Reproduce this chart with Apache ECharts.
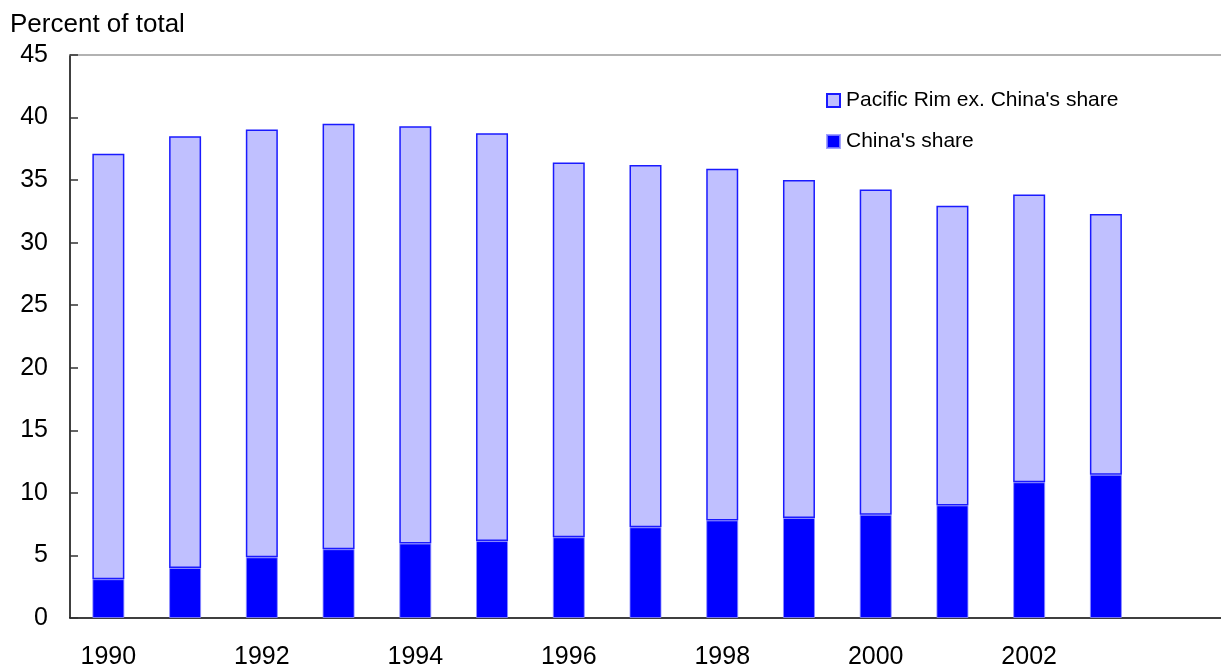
<!DOCTYPE html>
<html>
<head>
<meta charset="utf-8">
<title>Percent of total</title>
<script src="https://cdn.jsdelivr.net/npm/echarts@6/dist/echarts.min.js"></script>
<style>
  html, body { margin: 0; padding: 0; background: #ffffff; }
  #chart { width: 1221px; height: 670px; }
</style>
</head>
<body>
<div id="chart"></div>
<script>
// Years on the category axis; the final slot is left empty
const years = ['1990', '1991', '1992', '1993', '1994', '1995', '1996',
               '1997', '1998', '1999', '2000', '2001', '2002', '2003', ''];

// China's share (percent of total)
const chinaShare = [3.1, 4.0, 4.85, 5.5, 5.95, 6.15, 6.45,
                    7.25, 7.8, 8.0, 8.25, 9.0, 10.85, 11.45];

// Pacific Rim excluding China (percent of total)
const pacificRimExChina = [34.0, 34.5, 34.2, 34.0, 33.35, 32.6, 29.95,
                           28.95, 28.1, 27.0, 26.0, 23.95, 23.0, 20.85];

// Value-axis ticks
const yTicks = { min: 0, max: 45, interval: 5 };

const FONT = '"Liberation Sans", Arial, sans-serif';

const chart = echarts.init(document.getElementById('chart'), null, { renderer: 'canvas' });

chart.setOption({
  animation: false,
  backgroundColor: '#ffffff',
  title: {
    text: 'Percent of total',
    left: 5,
    top: 7,
    textStyle: { fontFamily: FONT, fontSize: 26, fontWeight: 'normal', color: '#000' }
  },
  legend: {
    orient: 'vertical',
    left: 821,
    top: 85,
    icon: 'rect',
    itemWidth: 13,
    itemHeight: 13,
    itemGap: 20,
    data: ["Pacific Rim ex. China's share", "China's share"],
    textStyle: { fontFamily: FONT, fontSize: 21, color: '#000', padding: [0, 0, 0, 1] }
  },
  grid: {
    left: 70,
    top: 55,
    width: 1156,
    bottom: 51,
    containLabel: false
  },
  xAxis: [
    {
      type: 'category',
      data: years,
      position: 'bottom',
      axisLine: { lineStyle: { color: '#000', width: 1.5 } },
      axisTick: { show: false },
      axisLabel: {
        interval: 1,
        margin: 27,
        fontFamily: FONT,
        fontSize: 25,
        color: '#000'
      }
    },
    {
      type: 'category',
      data: years,
      position: 'top',
      axisLine: { lineStyle: { color: '#999', width: 1.5 } },
      axisTick: { show: false },
      axisLabel: { show: false }
    }
  ],
  yAxis: {
    type: 'value',
    min: yTicks.min,
    max: yTicks.max,
    interval: yTicks.interval,
    axisLine: { show: true, lineStyle: { color: '#000', width: 1.5 } },
    axisTick: { show: true, inside: true, length: 8, lineStyle: { color: '#333', width: 1.5 } },
    splitLine: { show: false },
    axisLabel: {
      margin: 22,
      fontFamily: FONT,
      fontSize: 25,
      color: '#000'
    }
  },
  series: [
    {
      name: "China's share",
      type: 'bar',
      stack: 'total',
      barWidth: 32,
      data: chinaShare,
      itemStyle: {
        color: '#0000ff',
        borderColor: 'rgba(140,140,255,0.8)',
        borderWidth: 1
      }
    },
    {
      name: "Pacific Rim ex. China's share",
      type: 'bar',
      stack: 'total',
      barWidth: 32,
      data: pacificRimExChina,
      itemStyle: {
        color: '#c0c0ff',
        borderColor: '#1a1aff',
        borderWidth: 1.5
      }
    }
  ]
});
</script>
</body>
</html>
